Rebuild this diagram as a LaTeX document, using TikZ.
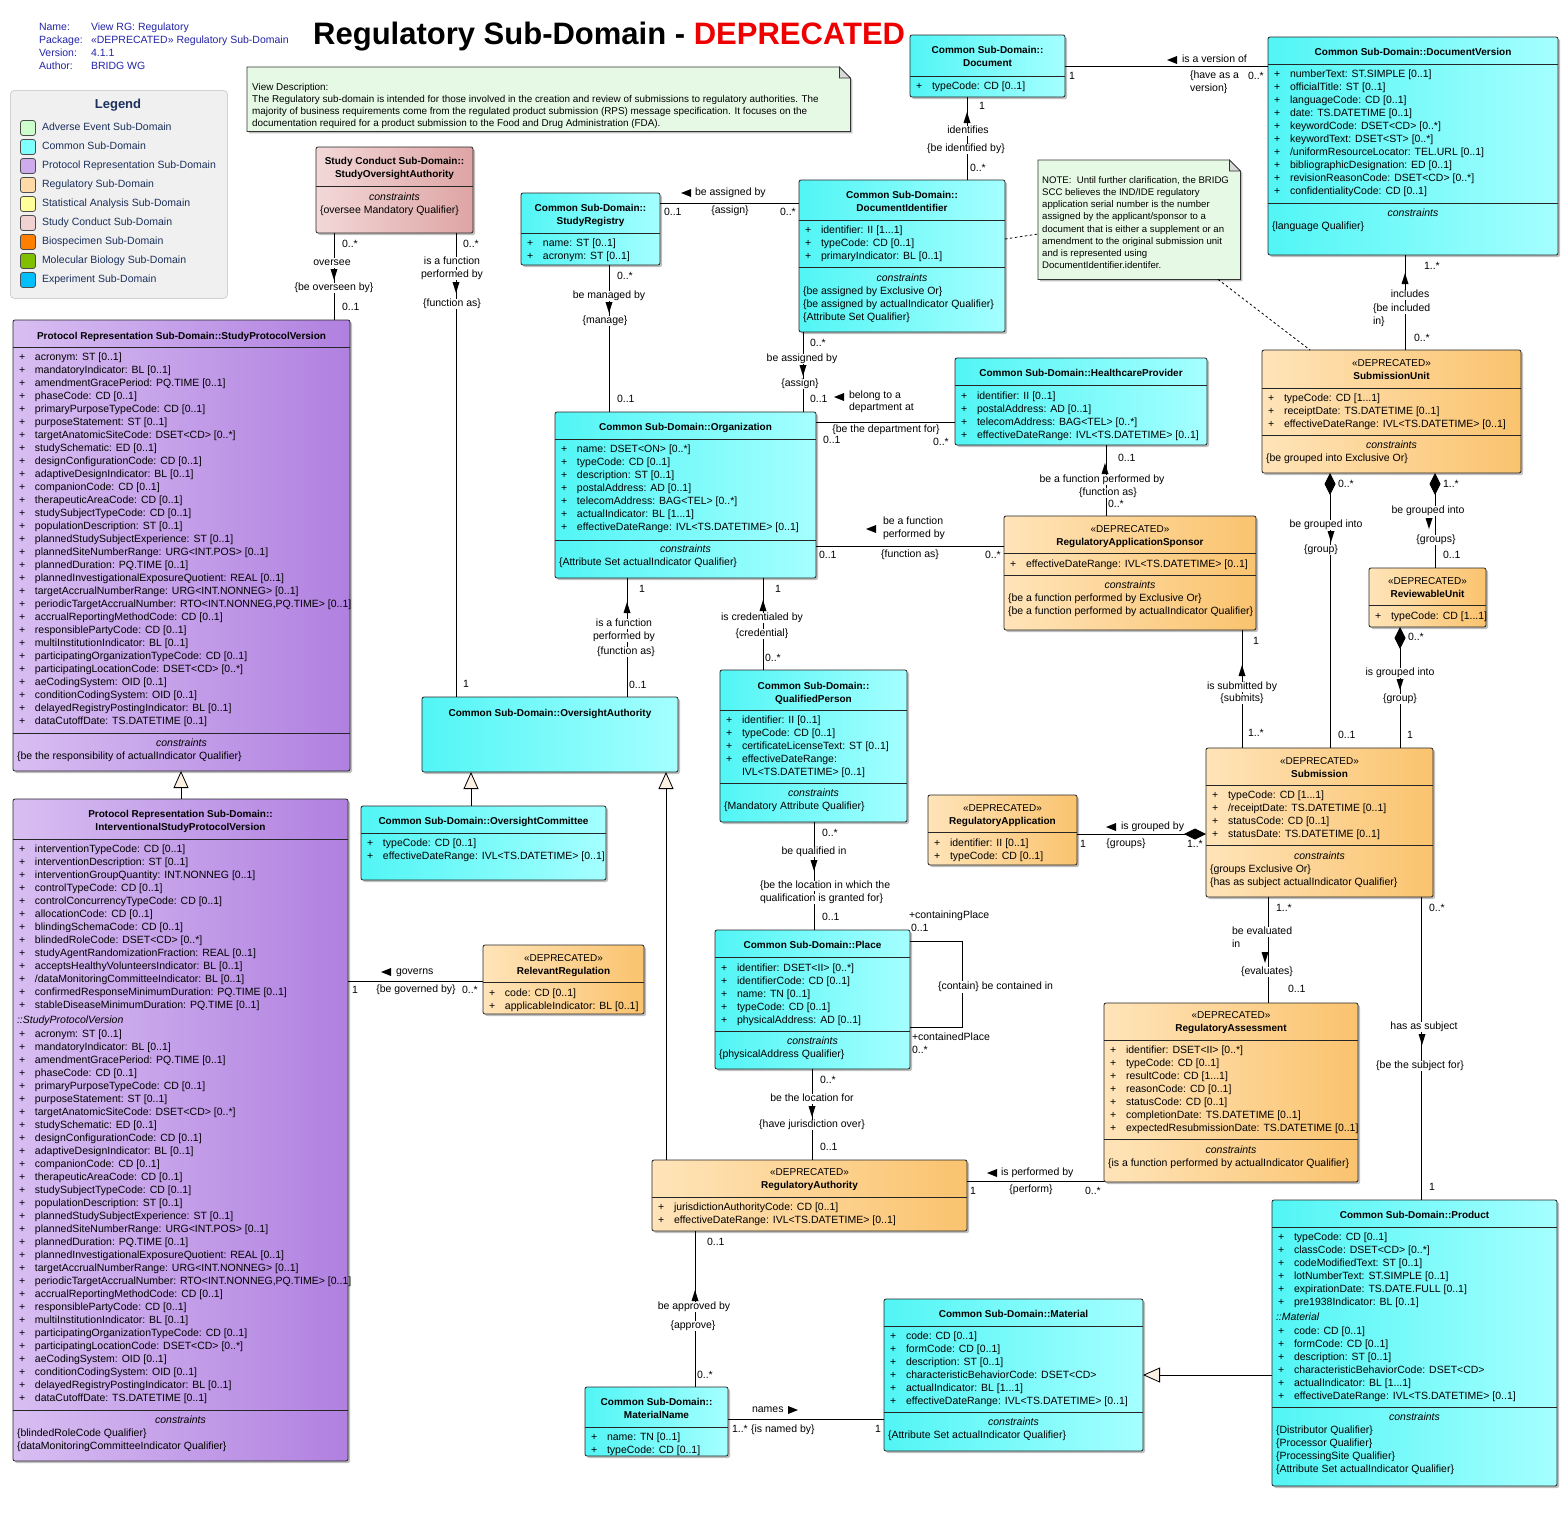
\documentclass[tikz,border=0pt]{standalone}
\usepackage{fontspec}
\setmainfont{Liberation Sans}
\usetikzlibrary{arrows.meta,shadows}
\definecolor{cyA}{RGB}{82,245,245}
\definecolor{cyB}{RGB}{165,255,255}
\definecolor{orA}{RGB}{255,228,185}
\definecolor{orB}{RGB}{250,195,110}
\definecolor{puA}{RGB}{216,190,242}
\definecolor{puB}{RGB}{176,128,224}
\definecolor{piA}{RGB}{243,216,216}
\definecolor{piB}{RGB}{222,164,164}
\definecolor{notefill}{RGB}{229,249,229}
\definecolor{hdrblue}{RGB}{36,36,168}
\definecolor{legtext}{RGB}{28,48,92}
\definecolor{gentri}{RGB}{252,240,226}
\definecolor{titlered}{RGB}{238,0,0}
\definecolor{lgAE}{RGB}{204,255,204}
\definecolor{lgCO}{RGB}{128,255,255}
\definecolor{lgPR}{RGB}{206,172,236}
\definecolor{lgRG}{RGB}{255,218,166}
\definecolor{lgSA}{RGB}{255,255,153}
\definecolor{lgSC}{RGB}{240,210,210}
\definecolor{lgBS}{RGB}{255,128,0}
\definecolor{lgMB}{RGB}{128,192,0}
\definecolor{lgEX}{RGB}{0,191,255}
\tikzset{
 shd/.style={drop shadow={shadow xshift=2pt,shadow yshift=-2pt,opacity=0.25,fill=black}},
 clsbase/.style={draw=black!85,line width=0.8pt,rounded corners=2pt,inner sep=0pt,outer sep=0pt,shd},
 common/.style={clsbase,left color=cyA,right color=cyB},
 regul/.style={clsbase,left color=orA,right color=orB},
 proto/.style={clsbase,left color=puA,right color=puB},
 conduct/.style={clsbase,left color=piA,right color=piB},
 txt/.style={inner sep=0pt,outer sep=0pt,font=\fontsize{10.5}{13}\selectfont},
 hdr/.style={inner sep=0pt,outer sep=0pt,font=\fontsize{10}{13}\selectfont\bfseries},
 lbl/.style={txt,text height=7.5pt,text depth=2.2pt},
 assoc/.style={draw=black,line width=0.8pt},
 gen/.style={assoc,-{Triangle[length=17pt,width=15pt,fill=gentri]}},
 comp/.style={assoc,-{Diamond[length=22pt,width=11pt]}},
 divl/.style={draw=black!85,line width=0.8pt},
 notestyle/.style={fill=notefill,draw=black!80,line width=0.8pt,shd},
 sw/.style={draw=black!70,line width=0.8pt,rounded corners=2.5pt,minimum size=15pt,inner sep=0pt}
}
\newcounter{tn}
\newcommand\p{\makebox[16pt][l]{+}}
\newcommand\Lab[4][west]{\stepcounter{tn}\node[lbl,anchor=#1] (t\arabic{tn}) at (#2,#3) {#4};}
\newcommand\Lc[3]{\stepcounter{tn}\node[lbl,fill=white,inner xsep=1pt,anchor=center] (t\arabic{tn}) at (#1,#2) {#3};}
\newcommand\Lw[3]{\stepcounter{tn}\node[lbl,fill=white,anchor=west] (t\arabic{tn}) at (#1,#2) {#3};}
\newcommand\Attr[3]{\stepcounter{tn}\node[txt,anchor=base west] (t\arabic{tn}) at (#1,#2+3.5) {\begin{tabular}[t]{@{}l@{}}#3\end{tabular}};}
\newcommand\Hd[3]{\stepcounter{tn}\node[hdr,anchor=base] (t\arabic{tn}) at (#1,#2+3.5) {\begin{tabular}[t]{@{}c@{}}#3\end{tabular}};}
\newcommand\Cons[4]{\stepcounter{tn}\node[txt,anchor=base] (t\arabic{tn}) at (#1,#2+3.5) {\itshape constraints};\Attr{#3}{#2+13}{#4}}
\newcommand\Cbox[6]{\pgfmathsetmacro\cw{#5-#3}\pgfmathsetmacro\ch{#6-#4}%
 \node[#2,anchor=north west,minimum width=\cw pt,minimum height=\ch pt] (#1) at (#3,#4) {};}
\newcommand\Dv[2]{\draw[divl] (#1.west |- 0,#2) -- (#1.east |- 0,#2);}
\newcommand\arrL[2]{\fill (#1,#2) -- ++(10,-4) -- ++(0,8) -- cycle;}
\newcommand\arrR[2]{\fill (#1,#2) -- ++(-10,-4) -- ++(0,8) -- cycle;}
\newcommand\arrU[2]{\fill (#1,#2) -- ++(-3.5,11) -- ++(7,0) -- cycle;}
\newcommand\arrD[2]{\fill (#1,#2) -- ++(-3.5,-11) -- ++(7,0) -- cycle;}
\newcommand\SPVlist{\p acronym: ST [0..1]\\\p mandatoryIndicator: BL [0..1]\\\p amendmentGracePeriod: PQ.TIME [0..1]\\\p phaseCode: CD [0..1]\\\p primaryPurposeTypeCode: CD [0..1]\\\p purposeStatement: ST [0..1]\\\p targetAnatomicSiteCode: DSET<CD> [0..*]\\\p studySchematic: ED [0..1]\\\p designConfigurationCode: CD [0..1]\\\p adaptiveDesignIndicator: BL [0..1]\\\p companionCode: CD [0..1]\\\p therapeuticAreaCode: CD [0..1]\\\p studySubjectTypeCode: CD [0..1]\\\p populationDescription: ST [0..1]\\\p plannedStudySubjectExperience: ST [0..1]\\\p plannedSiteNumberRange: URG<INT.POS> [0..1]\\\p plannedDuration: PQ.TIME [0..1]\\\p plannedInvestigationalExposureQuotient: REAL [0..1]\\\p targetAccrualNumberRange: URG<INT.NONNEG> [0..1]\\\p periodicTargetAccrualNumber: RTO<INT.NONNEG,PQ.TIME> [0..1]\\\p accrualReportingMethodCode: CD [0..1]\\\p responsiblePartyCode: CD [0..1]\\\p multiInstitutionIndicator: BL [0..1]\\\p participatingOrganizationTypeCode: CD [0..1]\\\p participatingLocationCode: DSET<CD> [0..*]\\\p aeCodingSystem: OID [0..1]\\\p conditionCodingSystem: OID [0..1]\\\p delayedRegistryPostingIndicator: BL [0..1]\\\p dataCutoffDate: TS.DATETIME [0..1]}
\newcommand\MATlist{\p code: CD [0..1]\\\p formCode: CD [0..1]\\\p description: ST [0..1]\\\p characteristicBehaviorCode: DSET<CD>\\\p actualIndicator: BL [1...1]\\\p effectiveDateRange: IVL<TS.DATETIME> [0..1]}
\begin{document}
\begin{tikzpicture}[x=1pt,y=-1pt]
\useasboundingbox (0,0) rectangle (1568,1515);
\fill[white] (0,0) rectangle (1568,1515);

% ---------- header info ----------
\node[lbl,text=hdrblue,anchor=west] (inf1) at (39,28) {Name:};
\node[lbl,text=hdrblue,anchor=west] (inf2) at (91,28) {View RG: Regulatory};
\node[lbl,text=hdrblue,anchor=west] (inf3) at (39,41) {Package:};
\node[lbl,text=hdrblue,anchor=west] (inf4) at (91,41) {«DEPRECATED» Regulatory Sub-Domain};
\node[lbl,text=hdrblue,anchor=west] (inf5) at (39,54) {Version:};
\node[lbl,text=hdrblue,anchor=west] (inf6) at (91,54) {4.1.1};
\node[lbl,text=hdrblue,anchor=west] (inf7) at (39,67) {Author:};
\node[lbl,text=hdrblue,anchor=west] (inf8) at (91,67) {BRIDG WG};
\node[inner sep=0,anchor=base west,font=\fontsize{31}{36}\selectfont\bfseries] (title) at (313,44) {Regulatory Sub-Domain - \textcolor{titlered}{DEPRECATED}};

% ---------- legend ----------
\node[draw=black!18,fill=black!6,rounded corners=4pt,line width=0.8pt,minimum width=217pt,minimum height=208pt,anchor=north west,inner sep=0] (leg) at (10,90) {};
\node[inner sep=0,font=\fontsize{13}{15}\selectfont\bfseries,text=legtext] (legT) at (118,105) {Legend};
\node[sw,fill=lgAE] (s1) at (28,128) {}; \node[lbl,text=legtext,anchor=west] (l1) at (42,128) {Adverse Event Sub-Domain};
\node[sw,fill=lgCO] (s2) at (28,147) {}; \node[lbl,text=legtext,anchor=west] (l2) at (42,147) {Common Sub-Domain};
\node[sw,fill=lgPR] (s3) at (28,166) {}; \node[lbl,text=legtext,anchor=west] (l3) at (42,166) {Protocol Representation Sub-Domain};
\node[sw,fill=lgRG] (s4) at (28,185) {}; \node[lbl,text=legtext,anchor=west] (l4) at (42,185) {Regulatory Sub-Domain};
\node[sw,fill=lgSA] (s5) at (28,204) {}; \node[lbl,text=legtext,anchor=west] (l5) at (42,204) {Statistical Analysis Sub-Domain};
\node[sw,fill=lgSC] (s6) at (28,223) {}; \node[lbl,text=legtext,anchor=west] (l6) at (42,223) {Study Conduct Sub-Domain};
\node[sw,fill=lgBS] (s7) at (28,242) {}; \node[lbl,text=legtext,anchor=west] (l7) at (42,242) {Biospecimen Sub-Domain};
\node[sw,fill=lgMB] (s8) at (28,261) {}; \node[lbl,text=legtext,anchor=west] (l8) at (42,261) {Molecular Biology Sub-Domain};
\node[sw,fill=lgEX] (s9) at (28,280) {}; \node[lbl,text=legtext,anchor=west] (l9) at (42,280) {Experiment Sub-Domain};

% ---------- notes ----------
\node[inner sep=0,minimum width=603pt,minimum height=64pt,anchor=north west] (vd) at (247,67) {};
\draw[notestyle] (vd.north west) -- ([xshift=-11pt]vd.north east) -- ([yshift=-11pt]vd.north east) -- (vd.south east) -- (vd.south west) -- cycle;
\draw[fill=black!15,draw=black!80,line width=0.7pt] ([xshift=-11pt]vd.north east) -- ([xshift=-11pt,yshift=-11pt]vd.north east) -- ([yshift=-11pt]vd.north east) -- cycle;
\node[inner sep=0,anchor=base west,font=\fontsize{9.9}{12}\selectfont] (vdt) at (252,90) {\begin{tabular}[t]{@{}l@{}}View Description:\\The Regulatory sub-domain is intended for those involved in the creation and review of submissions to regulatory authorities. The\\majority of business requirements come from the regulated product submission (RPS) message specification. It focuses on the\\documentation required for a product submission to the Food and Drug Administration (FDA).\end{tabular}};

\node[inner sep=0,minimum width=202pt,minimum height=119pt,anchor=north west] (nt) at (1038,160) {};
\draw[notestyle] (nt.north west) -- ([xshift=-11pt]nt.north east) -- ([yshift=-11pt]nt.north east) -- (nt.south east) -- (nt.south west) -- cycle;
\draw[fill=black!15,draw=black!80,line width=0.7pt] ([xshift=-11pt]nt.north east) -- ([xshift=-11pt,yshift=-11pt]nt.north east) -- ([yshift=-11pt]nt.north east) -- cycle;
\node[inner sep=0,anchor=base west,font=\fontsize{9.6}{12.15}\selectfont] (ntt) at (1042,183.5) {\begin{tabular}[t]{@{}l@{}}NOTE:\ \ Until further clarification, the BRIDG\\SCC believes the IND/IDE regulatory\\application serial number is the number\\assigned by the applicant/sponsor to a\\document that is either a supplement or an\\amendment to the original submission unit\\and is represented using\\DocumentIdentifier.identifer.\end{tabular}};

% ---------- class boxes ----------
\Cbox{doc}{common}{910}{35}{1065}{97}
\Cbox{dv}{common}{1268}{37}{1558}{255}
\Cbox{soa}{conduct}{316}{147}{473}{233}
\Cbox{sr}{common}{521}{193}{660}{265}
\Cbox{di}{common}{799}{180}{1005}{332}
\Cbox{spv}{proto}{13}{320}{350}{771}
\Cbox{org}{common}{555}{412}{816}{578}
\Cbox{hp}{common}{955}{358}{1207}{445}
\Cbox{su}{regul}{1262}{350}{1521}{473}
\Cbox{ras}{regul}{1004}{516}{1256}{630}
\Cbox{ru}{regul}{1369}{568}{1486}{627}
\Cbox{oa}{common}{422}{697}{678}{772}
\Cbox{qp}{common}{720}{670}{907}{822}
\Cbox{ispv}{proto}{13}{799}{348}{1461}
\Cbox{oc}{common}{361}{806}{606}{880}
\Cbox{rapp}{regul}{928}{795}{1077}{865}
\Cbox{sub}{regul}{1206}{748}{1433}{897}
\Cbox{rr}{regul}{483}{945}{644}{1014}
\Cbox{place}{common}{715}{930}{910}{1069}
\Cbox{rass}{regul}{1104}{1003}{1358}{1182}
\Cbox{rauth}{regul}{652}{1160}{967}{1231}
\Cbox{mat}{common}{884}{1299}{1143}{1451}
\Cbox{mn}{common}{585}{1387}{728}{1456}
\Cbox{prod}{common}{1272}{1200}{1557}{1486}

% ---------- class contents ----------
\Hd{987.5}{50}{Common Sub-Domain::\\Document}
\Dv{doc}{76}
\Attr{916}{86}{\p typeCode: CD [0..1]}

\Hd{1413}{52}{Common Sub-Domain::DocumentVersion}
\Dv{dv}{64}
\Attr{1274}{74}{\p numberText: ST.SIMPLE [0..1]\\\p officialTitle: ST [0..1]\\\p languageCode: CD [0..1]\\\p date: TS.DATETIME [0..1]\\\p keywordCode: DSET<CD> [0..*]\\\p keywordText: DSET<ST> [0..*]\\\p /uniformResourceLocator: TEL.URL [0..1]\\\p bibliographicDesignation: ED [0..1]\\\p revisionReasonCode: DSET<CD> [0..*]\\\p confidentialityCode: CD [0..1]}
\Dv{dv}{203}
\Cons{1413}{213}{1272}{\{language Qualifier\}}

\Hd{394.5}{161}{Study Conduct Sub-Domain::\\StudyOversightAuthority}
\Dv{soa}{186}
\Cons{394.5}{197}{320}{\{oversee Mandatory Qualifier\}}

\Hd{590.5}{208}{Common Sub-Domain::\\StudyRegistry}
\Dv{sr}{233}
\Attr{527}{243}{\p name: ST [0..1]\\\p acronym: ST [0..1]}

\Hd{902}{195}{Common Sub-Domain::\\DocumentIdentifier}
\Dv{di}{220}
\Attr{805}{230}{\p identifier: II [1...1]\\\p typeCode: CD [0..1]\\\p primaryIndicator: BL [0..1]}
\Dv{di}{267}
\Cons{902}{278}{803}{\{be assigned by Exclusive Or\}\\\{be assigned by actualIndicator Qualifier\}\\\{Attribute Set Qualifier\}}

\Hd{181.5}{336}{Protocol Representation Sub-Domain::StudyProtocolVersion}
\Dv{spv}{347}
\Attr{19}{357}{\SPVlist}
\Dv{spv}{733}
\Cons{181.5}{743}{17}{\{be the responsibility of actualIndicator Qualifier\}}

\Hd{685.5}{427}{Common Sub-Domain::Organization}
\Dv{org}{439}
\Attr{561}{449}{\p name: DSET<ON> [0..*]\\\p typeCode: CD [0..1]\\\p description: ST [0..1]\\\p postalAddress: AD [0..1]\\\p telecomAddress: BAG<TEL> [0..*]\\\p actualIndicator: BL [1...1]\\\p effectiveDateRange: IVL<TS.DATETIME> [0..1]}
\Dv{org}{540}
\Cons{685.5}{549}{559}{\{Attribute Set actualIndicator Qualifier\}}

\Hd{1081}{373}{Common Sub-Domain::HealthcareProvider}
\Dv{hp}{385}
\Attr{961}{396}{\p identifier: II [0..1]\\\p postalAddress: AD [0..1]\\\p telecomAddress: BAG<TEL> [0..*]\\\p effectiveDateRange: IVL<TS.DATETIME> [0..1]}

\Hd{1391.5}{363}{{\mdseries «DEPRECATED»}\\SubmissionUnit}
\Dv{su}{388}
\Attr{1268}{398}{\p typeCode: CD [1...1]\\\p receiptDate: TS.DATETIME [0..1]\\\p effectiveDateRange: IVL<TS.DATETIME> [0..1]}
\Dv{su}{435}
\Cons{1391.5}{445}{1266}{\{be grouped into Exclusive Or\}}

\Hd{1130}{529}{{\mdseries «DEPRECATED»}\\RegulatoryApplicationSponsor}
\Dv{ras}{553}
\Attr{1010}{564}{\p effectiveDateRange: IVL<TS.DATETIME> [0..1]}
\Dv{ras}{575}
\Cons{1130}{585}{1008}{\{be a function performed by Exclusive Or\}\\\{be a function performed by actualIndicator Qualifier\}}

\Hd{1427.5}{581}{{\mdseries «DEPRECATED»}\\ReviewableUnit}
\Dv{ru}{605}
\Attr{1375}{616}{\p typeCode: CD [1...1]}

\Hd{550}{713}{Common Sub-Domain::OversightAuthority}

\Hd{813.5}{686}{Common Sub-Domain::\\QualifiedPerson}
\Dv{qp}{710}
\Attr{726}{720}{\p identifier: II [0..1]\\\p typeCode: CD [0..1]\\\p certificateLicenseText: ST [0..1]\\\p effectiveDateRange:\\\hspace*{16pt}IVL<TS.DATETIME> [0..1]}
\Dv{qp}{783}
\Cons{813.5}{793}{724}{\{Mandatory Attribute Qualifier\}}

\Hd{180.5}{814}{Protocol Representation Sub-Domain::\\InterventionalStudyProtocolVersion}
\Dv{ispv}{839}
\Attr{19}{849}{\p interventionTypeCode: CD [0..1]\\\p interventionDescription: ST [0..1]\\\p interventionGroupQuantity: INT.NONNEG [0..1]\\\p controlTypeCode: CD [0..1]\\\p controlConcurrencyTypeCode: CD [0..1]\\\p allocationCode: CD [0..1]\\\p blindingSchemaCode: CD [0..1]\\\p blindedRoleCode: DSET<CD> [0..*]\\\p studyAgentRandomizationFraction: REAL [0..1]\\\p acceptsHealthyVolunteersIndicator: BL [0..1]\\\p /dataMonitoringCommitteeIndicator: BL [0..1]\\\p confirmedResponseMinimumDuration: PQ.TIME [0..1]\\\p stableDiseaseMinimumDuration: PQ.TIME [0..1]}
\Lab{17}{1021}{\itshape ::StudyProtocolVersion}
\Attr{19}{1034}{\SPVlist}
\Dv{ispv}{1410}
\Cons{180.5}{1420}{17}{\{blindedRoleCode Qualifier\}\\\{dataMonitoringCommitteeIndicator Qualifier\}}

\Hd{483.5}{821}{Common Sub-Domain::OversightCommittee}
\Dv{oc}{833}
\Attr{367}{843}{\p typeCode: CD [0..1]\\\p effectiveDateRange: IVL<TS.DATETIME> [0..1]}

\Hd{1002.5}{808}{{\mdseries «DEPRECATED»}\\RegulatoryApplication}
\Dv{rapp}{832}
\Attr{934}{843}{\p identifier: II [0..1]\\\p typeCode: CD [0..1]}

\Hd{1319.5}{761}{{\mdseries «DEPRECATED»}\\Submission}
\Dv{sub}{785}
\Attr{1212}{795}{\p typeCode: CD [1...1]\\\p /receiptDate: TS.DATETIME [0..1]\\\p statusCode: CD [0..1]\\\p statusDate: TS.DATETIME [0..1]}
\Dv{sub}{845}
\Cons{1319.5}{856}{1210}{\{groups Exclusive Or\}\\\{has as subject actualIndicator Qualifier\}}

\Hd{563.5}{958}{{\mdseries «DEPRECATED»}\\RelevantRegulation}
\Dv{rr}{982}
\Attr{489}{993}{\p code: CD [0..1]\\\p applicableIndicator: BL [0..1]}

\Hd{812.5}{945}{Common Sub-Domain::Place}
\Dv{place}{957}
\Attr{721}{968}{\p identifier: DSET<II> [0..*]\\\p identifierCode: CD [0..1]\\\p name: TN [0..1]\\\p typeCode: CD [0..1]\\\p physicalAddress: AD [0..1]}
\Dv{place}{1031}
\Cons{812.5}{1041}{719}{\{physicalAddress Qualifier\}}

\Hd{1231}{1015}{{\mdseries «DEPRECATED»}\\RegulatoryAssessment}
\Dv{rass}{1040}
\Attr{1110}{1050}{\p identifier: DSET<II> [0..*]\\\p typeCode: CD [0..1]\\\p resultCode: CD [1...1]\\\p reasonCode: CD [0..1]\\\p statusCode: CD [0..1]\\\p completionDate: TS.DATETIME [0..1]\\\p expectedResubmissionDate: TS.DATETIME [0..1]}
\Dv{rass}{1139}
\Cons{1231}{1150}{1108}{\{is a function performed by actualIndicator Qualifier\}}

\Hd{809.5}{1172}{{\mdseries «DEPRECATED»}\\RegulatoryAuthority}
\Dv{rauth}{1197}
\Attr{658}{1207}{\p jurisdictionAuthorityCode: CD [0..1]\\\p effectiveDateRange: IVL<TS.DATETIME> [0..1]}

\Hd{1013.5}{1314}{Common Sub-Domain::Material}
\Dv{mat}{1326}
\Attr{890}{1336}{\MATlist}
\Dv{mat}{1412}
\Cons{1013.5}{1422}{888}{\{Attribute Set actualIndicator Qualifier\}}

\Hd{656.5}{1402}{Common Sub-Domain::\\MaterialName}
\Dv{mn}{1427}
\Attr{591}{1437}{\p name: TN [0..1]\\\p typeCode: CD [0..1]}

\Hd{1414.5}{1215}{Common Sub-Domain::Product}
\Dv{prod}{1227}
\Attr{1278}{1237}{\p typeCode: CD [0..1]\\\p classCode: DSET<CD> [0..*]\\\p codeModifiedText: ST [0..1]\\\p lotNumberText: ST.SIMPLE [0..1]\\\p expirationDate: TS.DATE.FULL [0..1]\\\p pre1938Indicator: BL [0..1]}
\Lab{1276}{1318}{\itshape ::Material}
\Attr{1278}{1331}{\MATlist}
\Dv{prod}{1407}
\Cons{1414.5}{1417}{1276}{\{Distributor Qualifier\}\\\{Processor Qualifier\}\\\{ProcessingSite Qualifier\}\\\{Attribute Set actualIndicator Qualifier\}}

% ---------- dashed note links ----------
\draw[line width=0.8pt,dash pattern=on 2.5pt off 2.5pt] (di.east |- 0,239) -- (nt.west |- 0,234);
\draw[line width=0.8pt,dash pattern=on 2.5pt off 2.5pt] (nt.south -| 1218,0) -- (su.north -| 1310,0);

% ---------- connectors ----------
% Document - DocumentVersion
\draw[assoc] (doc.east |- 0,66) -- (dv.west |- 0,66);
\Lab{1069}{77}{1}
\arrL{1167}{60} \Lab{1182}{60}{is a version of}
\Lab{1190}{76}{\{have as a} \Lab{1190}{89}{version\}}
\Lab{1248}{77}{0..*}
% Document - DocumentIdentifier
\draw[assoc] (doc.south -| 967,0) -- (di.north -| 967,0);
\Lab{979}{107}{1}
\arrU{967}{112}
\Lc{968}{131}{identifies}
\Lc{966}{149}{\{be identified by\}}
\Lab{970}{169}{0..*}
% StudyRegistry - DocumentIdentifier
\draw[assoc] (sr.east |- 0,203) -- (di.west |- 0,203);
\arrL{681}{193} \Lab{695}{193}{be assigned by}
\Lab{664}{213}{0..1}
\Lab[center]{730}{211}{\{assign\}}
\Lab{780}{213}{0..*}
% SOA - SPV
\draw[assoc] (soa.south -| 334,0) -- (spv.north -| 334,0);
\Lab{342}{245}{0..*}
\Lc{332}{263}{oversee}
\arrD{334}{280}
\Lc{334}{288}{\{be overseen by\}}
\Lab{342}{308}{0..1}
% SOA - OversightAuthority
\draw[assoc] (soa.south -| 456,0) -- (oa.north -| 456,0);
\Lab{463}{245}{0..*}
\Lc{452}{262}{is a function}
\Lc{452}{275}{performed by}
\arrD{456}{293}
\Lc{452}{304}{\{function as\}}
\Lab{463}{685}{1}
% StudyRegistry - Organization
\draw[assoc] (sr.south -| 609,0) -- (org.north -| 609,0);
\Lab{617}{277}{0..*}
\Lc{609}{296}{be managed by}
\arrD{609}{313}
\Lc{605}{321}{\{manage\}}
\Lab{617}{400}{0..1}
% DocumentIdentifier - Organization
\draw[assoc] (di.south -| 803,0) -- (org.north -| 803,0);
\Lab{810}{344}{0..*}
\Lc{802}{359}{be assigned by}
\arrD{803}{376}
\Lc{800}{384}{\{assign\}}
\Lab{810}{400}{0..1}
% Organization - HealthcareProvider
\draw[assoc] (org.east |- 0,422) -- (hp.west |- 0,422);
\arrL{834}{397} \Lab{849}{396}{belong to a} \Lab{849}{408}{department at}
\Lab[center]{886}{430}{\{be the department for\}}
\Lab{823}{441}{0..1}
\Lab{933}{443}{0..*}
% HealthcareProvider - RAS
\draw[assoc] (hp.south -| 1106,0) -- (ras.north -| 1106,0);
\Lab{1118}{459}{0..1}
\arrU{1105}{463}
\Lc{1102}{480}{be a function performed by}
\Lc{1108}{493}{\{function as\}}
\Lab{1108}{505}{0..*}
% Organization - RAS
\draw[assoc] (org.east |- 0,546) -- (ras.west |- 0,546);
\arrL{866}{529} \Lab{883}{522}{be a function} \Lab{883}{535}{performed by}
\Lab[center]{910}{555}{\{function as\}}
\Lab{819}{556}{0..1}
\Lab{985}{556}{0..*}
% Organization - OversightAuthority
\draw[assoc] (org.south -| 627,0) -- (oa.north -| 627,0);
\Lab{639}{590}{1}
\arrU{627}{602}
\Lc{624}{624}{is a function}
\Lc{624}{637}{performed by}
\Lc{626}{652}{\{function as\}}
\Lab{629}{686}{0..1}
% Organization - QualifiedPerson
\draw[assoc] (org.south -| 763,0) -- (qp.north -| 763,0);
\Lab{775}{590}{1}
\arrU{763}{600}
\Lc{762}{618}{is credentialed by}
\Lc{762}{634}{\{credential\}}
\Lab{765}{659}{0..*}
% DocumentVersion - SubmissionUnit
\draw[assoc] (dv.south -| 1405,0) -- (su.north -| 1405,0);
\Lab{1424}{267}{1..*}
\arrU{1405}{273}
\Lc{1410}{295}{includes}
\Lw{1373}{309}{\{be included}
\Lab{1373}{322}{in\}}
\Lab{1414}{339}{0..*}
% SubmissionUnit - Submission
\draw[comp] (sub.north -| 1330,0) -- (su.south -| 1330,0);
\Lab{1338}{485}{0..*}
\Lc{1326}{525}{be grouped into}
\arrD{1331}{542}
\Lc{1321}{550}{\{group\}}
\Lab{1338}{736}{0..1}
% SubmissionUnit - ReviewableUnit
\draw[comp] (ru.north -| 1435,0) -- (su.south -| 1435,0);
\Lab{1443}{485}{1..*}
\Lc{1428}{511}{be grouped into}
\arrD{1429}{529}
\Lc{1436}{540}{\{groups\}}
\Lab{1443}{556}{0..1}
% ReviewableUnit - Submission
\draw[comp] (sub.north -| 1400,0) -- (ru.south -| 1400,0);
\Lab{1408}{638}{0..*}
\Lc{1400}{673}{is grouped into}
\arrD{1400}{690}
\Lc{1400}{699}{\{group\}}
\Lab{1407}{736}{1}
% RAS - Submission
\draw[assoc] (ras.south -| 1242,0) -- (sub.north -| 1242,0);
\Lab{1253}{642}{1}
\arrU{1242}{665}
\Lc{1242}{687}{is submitted by}
\Lc{1242}{699}{\{submits\}}
\Lab{1248}{734}{1..*}
% RegulatoryApplication - Submission
\draw[comp] (rapp.east |- 0,834) -- (sub.west |- 0,834);
\arrL{1106}{827} \Lab{1121}{827}{is grouped by}
\Lab{1080}{845}{1}
\Lab[center]{1126}{844}{\{groups\}}
\Lab{1187}{845}{1..*}
% Submission - RegulatoryAssessment
\draw[assoc] (sub.south -| 1268,0) -- (rass.north -| 1268,0);
\Lab{1276}{909}{1..*}
\Lw{1232}{932}{be evaluated}
\Lab{1232}{945}{in}
\arrD{1265}{963}
\Lc{1267}{972}{\{evaluates\}}
\Lab{1288}{990}{0..1}
% Submission - Product
\draw[assoc] (sub.south -| 1421,0) -- (prod.north -| 1421,0);
\Lab{1429}{909}{0..*}
\Lc{1424}{1027}{has as subject}
\arrD{1422}{1045}
\Lc{1420}{1066}{\{be the subject for\}}
\Lab{1429}{1188}{1}
% QualifiedPerson - Place
\draw[assoc] (qp.south -| 814,0) -- (place.north -| 814,0);
\Lab{822}{834}{0..*}
\Lc{814}{852}{be qualified in}
\arrD{814}{871}
\Lw{760}{886}{\{be the location in which the}
\Lw{760}{899}{qualification is granted for\}}
\Lab{822}{918}{0..1}
% Place self association
\draw[assoc] (place.east |- 0,941) -- (962,941) -- (962,1027) -- (place.east |- 0,1027);
\Lab{909}{916}{+containingPlace}
\Lab{911}{929}{0..1}
\node[lbl,fill=white,inner ysep=1.5pt,anchor=west] (cont) at (938,987) {\{contain\} be contained in};
\Lab{912}{1038}{+containedPlace}
\Lab{912}{1051}{0..*}
% Place - RegulatoryAuthority
\draw[assoc] (place.south -| 812,0) -- (rauth.north -| 812,0);
\Lab{820}{1081}{0..*}
\Lc{812}{1099}{be the location for}
\arrD{812}{1117}
\Lc{812}{1125}{\{have jurisdiction over\}}
\Lab{820}{1148}{0..1}
% RegulatoryAuthority - RegulatoryAssessment
\draw[assoc] (rauth.east |- 0,1181) -- (rass.west |- 0,1181);
\arrL{987}{1173} \Lab{1001}{1173}{is performed by}
\Lab{970}{1192}{1}
\Lab[center]{1031}{1190}{\{perform\}}
\Lab{1085}{1192}{0..*}
% generalizations
\draw[gen] (rauth.north -| 666,0) -- (oa.south -| 666,0);
\draw[gen] (oc.north -| 471,0) -- (oa.south -| 471,0);
\draw[gen] (ispv.north -| 181,0) -- (spv.south -| 181,0);
\draw[gen] (prod.west |- 0,1375) -- (mat.east |- 0,1375);
% ISPV - RelevantRegulation
\draw[assoc] (ispv.east |- 0,981) -- (rr.west |- 0,981);
\arrL{381}{972} \Lab{396}{972}{governs}
\Lab{352}{991}{1}
\Lab[center]{416}{990}{\{be governed by\}}
\Lab{462}{991}{0..*}
% RegulatoryAuthority - MaterialName
\draw[assoc] (rauth.south -| 695,0) -- (mn.north -| 695,0);
\Lab{707}{1243}{0..1}
\arrU{695}{1290}
\Lc{694}{1307}{be approved by}
\Lc{693}{1326}{\{approve\}}
\Lab{697}{1376}{0..*}
% MaterialName - Material
\draw[assoc] (mn.east |- 0,1419) -- (mat.west |- 0,1419);
\Lab{752}{1410}{names} \arrR{798}{1410}
\Lab{732}{1430}{1..*}
\Lab{751}{1430}{\{is named by\}}
\Lab{875}{1430}{1}
\end{tikzpicture}
\end{document}
